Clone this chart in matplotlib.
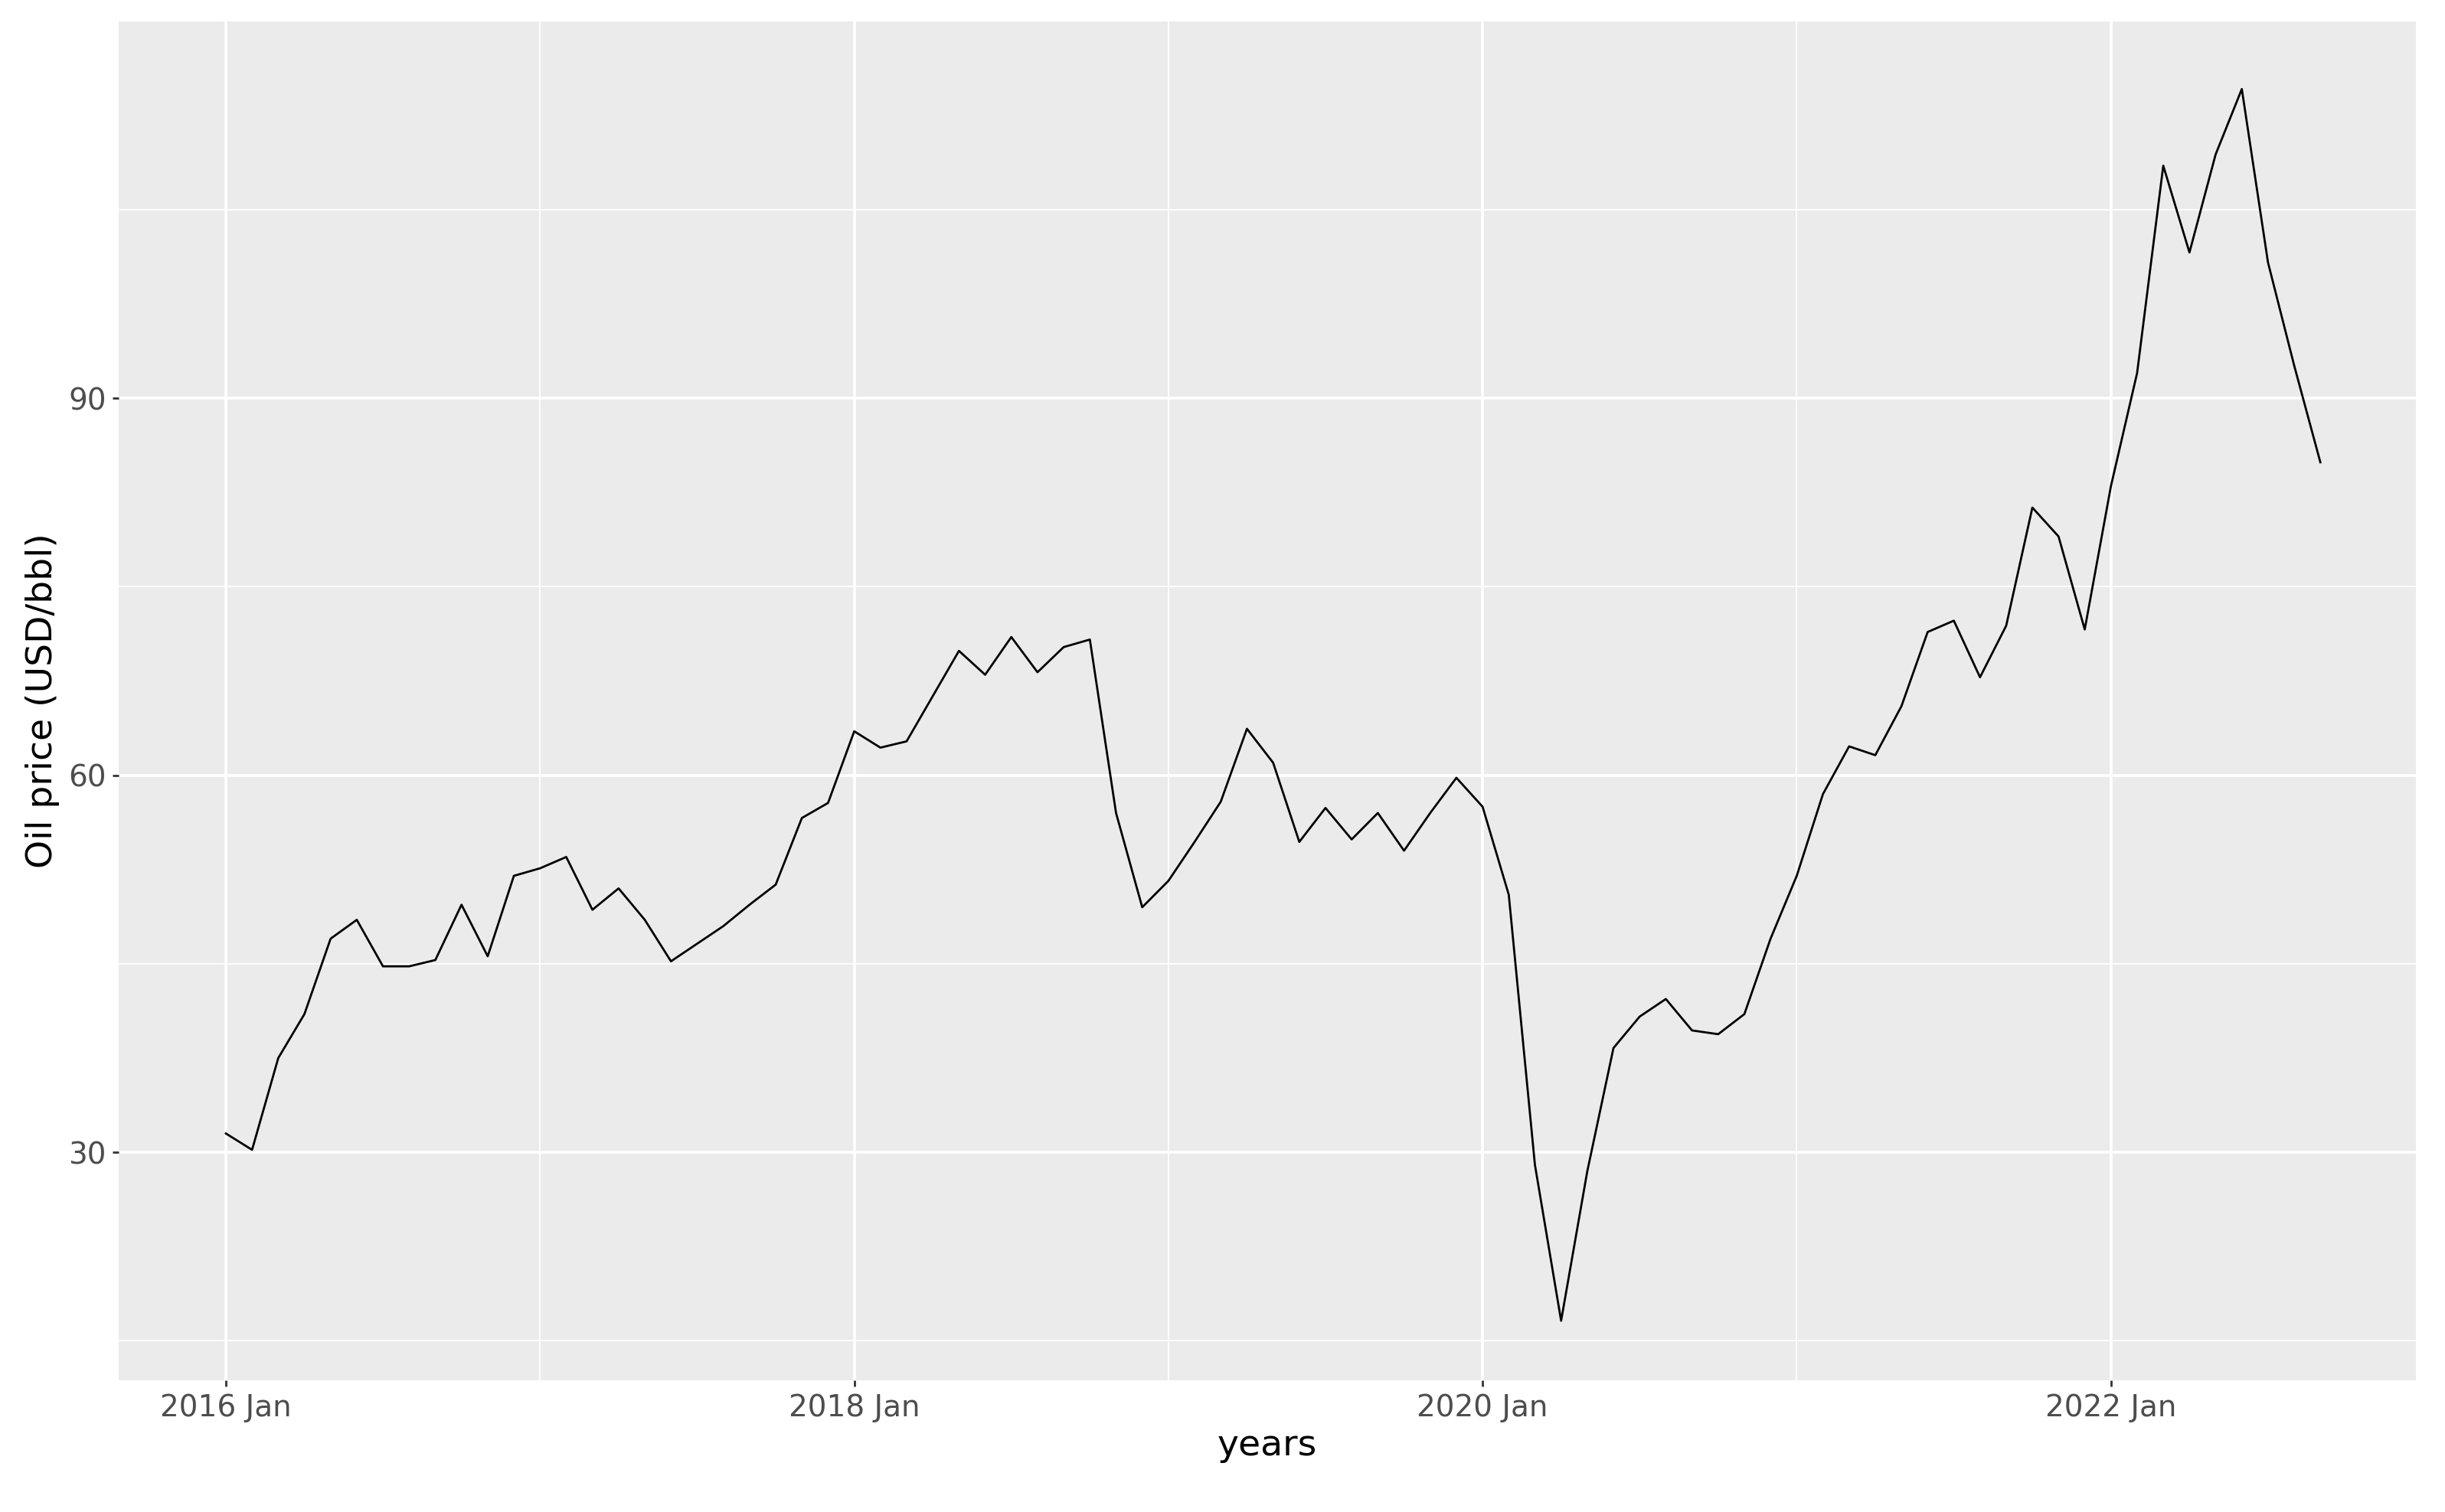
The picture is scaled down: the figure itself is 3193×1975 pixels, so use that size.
import numpy as np
import matplotlib.pyplot as plt

start_year = 2016
prices = [
    31.5, 30.2, 37.5, 41.0, 47.0, 48.5, 44.8, 44.8, 45.3, 49.7, 45.6, 52.0,
    52.6, 53.5, 49.3, 51.0, 48.5, 45.2, 46.6, 48.0, 49.7, 51.3, 56.6, 57.8,
    63.5, 62.2, 62.7, 66.3, 69.9, 68.0, 71.0, 68.2, 70.2, 70.8, 57.0, 49.5,
    51.6, 54.7, 57.9, 63.7, 61.0, 54.7, 57.4, 54.9, 57.0, 54.0, 57.0, 59.8,
    57.5, 50.5, 29.0, 16.6, 28.5, 38.3, 40.8, 42.2, 39.7, 39.4, 41.0, 47.0,
    52.0, 58.5, 62.3, 61.6, 65.5, 71.4, 72.3, 67.8, 71.9, 81.3, 79.0, 71.6,
    83.0, 92.0, 108.5, 101.6, 109.4, 114.6, 100.8, 92.6, 84.9,
]
tick_years = [2016, 2018, 2020, 2022]
tick_labels = ["2016 Jan", "2018 Jan", "2020 Jan", "2022 Jan"]
y_ticks = [30, 60, 90]

t = start_year + np.arange(len(prices)) / 12.0

fig = plt.figure(figsize=(31.93, 19.75), dpi=100)
ax = fig.add_axes([0.0487, 0.087, 0.9393, 0.899])
ax.set_facecolor("#EBEBEB")
for s in ax.spines.values():
    s.set_visible(False)

ax.set_xlim(2015.66, 2022.97)
ax.set_ylim(11.85, 120.0)
ax.set_xticks(tick_years)
ax.set_xticklabels(tick_labels)
ax.set_xticks([2017, 2019, 2021], minor=True)
ax.set_yticks(y_ticks)
ax.set_yticks([15, 45, 75, 105], minor=True)
ax.grid(which="major", color="white", linewidth=2.6)
ax.grid(which="minor", color="white", linewidth=1.3)
ax.set_axisbelow(True)
ax.tick_params(which="major", length=6, width=2, color="#333333",
               labelsize=28, labelcolor="#4D4D4D", pad=6)
ax.tick_params(which="minor", length=0)

ax.plot(t, prices, color="black", linewidth=2)

ax.set_xlabel("years", fontsize=34, labelpad=6)
ax.set_ylabel("Oil price (USD/bbl)", fontsize=34, labelpad=8)

fig.savefig("out.png")
